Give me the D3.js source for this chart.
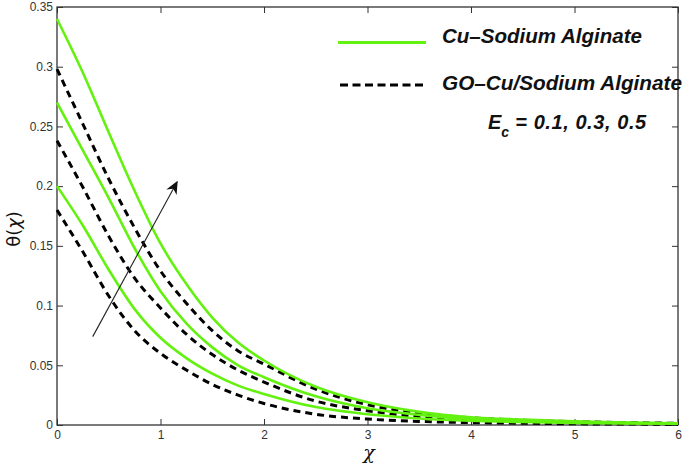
<!DOCTYPE html>
<html><head><meta charset="utf-8">
<script src="https://cdn.jsdelivr.net/npm/d3@7/dist/d3.min.js"></script>
<style>
html,body{margin:0;padding:0;background:#fff;}
svg{display:block;font-family:"Liberation Sans",Arial,Helvetica,sans-serif;}
</style></head>
<body>
<svg id="chart" width="685" height="466"></svg>
<script>
// ---- data ----
const xs = [0, 0.25, 0.5, 0.75, 1, 1.25, 1.5, 1.75, 2, 2.5, 3, 3.5, 4, 4.5, 5, 5.5, 6];
// Cu-Sodium Alginate (solid green), Ec = 0.1, 0.3, 0.5
const cuEc01 = [0.200,0.167,0.130,0.097,0.073,0.056,0.043,0.033,0.026,0.015,0.009,0.0055,0.0035,0.0025,0.0018,0.0013,0.0010];
const cuEc03 = [0.270,0.230,0.190,0.148,0.112,0.085,0.065,0.050,0.040,0.024,0.014,0.0085,0.0050,0.0035,0.0025,0.0018,0.0012];
const cuEc05 = [0.340,0.295,0.245,0.196,0.152,0.118,0.090,0.069,0.054,0.032,0.019,0.011,0.0065,0.0045,0.0030,0.0020,0.0015];
// GO-Cu/Sodium Alginate (dashed black), Ec = 0.1, 0.3, 0.5
const goEc01 = [0.180,0.145,0.108,0.079,0.060,0.046,0.034,0.025,0.018,0.009,0.005,0.003,0.002,0.0015,0.0010,0.0008,0.0006];
const goEc03 = [0.238,0.199,0.158,0.123,0.098,0.076,0.059,0.046,0.036,0.020,0.012,0.007,0.0045,0.003,0.002,0.0015,0.0010];
const goEc05 = [0.298,0.252,0.206,0.165,0.129,0.102,0.079,0.062,0.051,0.030,0.017,0.010,0.006,0.004,0.0028,0.0020,0.0014];
const xTicks = [0,1,2,3,4,5,6];
const yTicks = [0,0.05,0.1,0.15,0.2,0.25,0.3,0.35];
const yTickLabels = ["0","0.05","0.1","0.15","0.2","0.25","0.3","0.35"];
const legendLabels = ["Cu\u2013Sodium Alginate","GO\u2013Cu/Sodium Alginate"];
const ecText = ["E","c"," = 0.1, 0.3, 0.5"];
const arrowFrom = [0.345, 0.074];
const arrowTo = [1.16, 0.2035];

// ---- layout ----
const svg = d3.select("#chart");
const L = 57, R = 678, T = 7, B = 425;
const x = d3.scaleLinear().domain([0,6]).range([L,R]);
const y = d3.scaleLinear().domain([0,0.35]).range([B,T]);
const green = "#63f20f";

// frame
svg.append("rect").attr("x",L).attr("y",T).attr("width",R-L).attr("height",B-T)
  .attr("fill","none").attr("stroke","#222").attr("stroke-width",1.2);

// axes
const tickFmt = d=>yTickLabels[yTicks.indexOf(d)];
const axB = svg.append("g").attr("transform",`translate(0,${B})`)
  .call(d3.axisBottom(x).tickValues(xTicks).tickSize(-6).tickPadding(5).tickFormat(d3.format("d")));
const axT = svg.append("g").attr("transform",`translate(0,${T})`)
  .call(d3.axisTop(x).tickValues(xTicks).tickSize(-6).tickFormat(""));
const axL = svg.append("g").attr("transform",`translate(${L},0)`)
  .call(d3.axisLeft(y).tickValues(yTicks).tickSize(-6).tickPadding(4).tickFormat(tickFmt));
const axR = svg.append("g").attr("transform",`translate(${R},0)`)
  .call(d3.axisRight(y).tickValues(yTicks).tickSize(-6).tickFormat(""));
[axB,axT,axL,axR].forEach(g=>{
  g.select(".domain").remove();
  g.selectAll(".tick line").attr("stroke","#333").attr("stroke-width",1);
  g.selectAll(".tick text").attr("fill","#333").attr("font-size",12)
   .attr("font-family","'Liberation Sans',Arial,sans-serif");
});

// curves
const line = d3.line().x((d,i)=>x(xs[i])).y(d=>y(d)).curve(d3.curveMonotoneX);
[goEc01,goEc03,goEc05].forEach(s=>{
  svg.append("path").attr("d",line(s)).attr("fill","none")
    .attr("stroke","#000").attr("stroke-width",3).attr("stroke-dasharray","7,5");
});
[cuEc01,cuEc03,cuEc05].forEach(s=>{
  svg.append("path").attr("d",line(s)).attr("fill","none")
    .attr("stroke",green).attr("stroke-width",2.6);
});

// arrow
svg.append("defs").append("marker").attr("id","ah").attr("viewBox","0 0 10 10")
  .attr("refX",9).attr("refY",5).attr("markerWidth",13).attr("markerHeight",13)
  .attr("markerUnits","userSpaceOnUse").attr("orient","auto")
  .append("path").attr("d","M0,0.5 L10,5 L0,9.5 L3,5 Z").attr("fill","#111");
svg.append("line").attr("x1",x(arrowFrom[0])).attr("y1",y(arrowFrom[1]))
  .attr("x2",x(arrowTo[0])).attr("y2",y(arrowTo[1]))
  .attr("stroke","#222").attr("stroke-width",1.1).attr("marker-end","url(#ah)");

// legend
const lg = svg.append("g");
lg.append("line").attr("x1",338).attr("x2",426).attr("y1",42.5).attr("y2",42.5)
  .attr("stroke",green).attr("stroke-width",3);
lg.append("line").attr("x1",340).attr("x2",427).attr("y1",85).attr("y2",85)
  .attr("stroke","#000").attr("stroke-width",3).attr("stroke-dasharray","8,4.5");
const legW = [200, 240];
legendLabels.forEach((t,i)=>{
  lg.append("text").attr("x",442).attr("y",i===0?43:90).text(t)
    .attr("font-size",20).attr("font-weight","bold").attr("font-style","italic").attr("fill","#111")
    .attr("textLength",legW[i]).attr("lengthAdjust","spacingAndGlyphs");
});
const ec = svg.append("text").attr("x",488).attr("y",129).attr("font-size",20)
  .attr("font-weight","bold").attr("font-style","italic").attr("fill","#111");
ec.append("tspan").text(ecText[0]);
ec.append("tspan").text(ecText[1]).attr("font-size",14).attr("dy",8);
ec.append("tspan").text(ecText[2]).attr("dy",-8).attr("textLength",137).attr("lengthAdjust","spacing");

// axis labels
svg.append("text").attr("transform","translate(20,229) rotate(-90)").attr("text-anchor","middle")
  .attr("font-size",18).attr("fill","#111").attr("font-family","'DejaVu Sans',sans-serif")
  .html('θ(<tspan font-style="italic">χ</tspan>)');
svg.append("text").attr("x",369).attr("y",459).attr("text-anchor","middle")
  .attr("font-size",19).attr("font-style","italic").attr("fill","#111")
  .attr("font-family","'DejaVu Serif',serif").text("χ");
</script>
</body></html>
